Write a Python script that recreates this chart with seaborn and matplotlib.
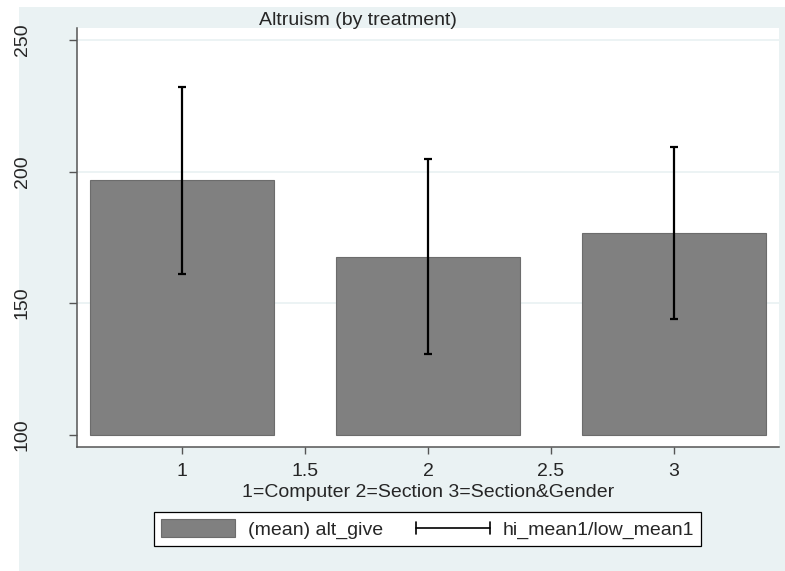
import matplotlib
matplotlib.use("Agg")
import matplotlib.pyplot as plt
from matplotlib.patches import Patch, Rectangle
from matplotlib.lines import Line2D
from matplotlib.legend_handler import HandlerBase
import numpy as np
import pandas as pd
import seaborn as sns

# Mean giving by treatment with hi/low bounds
treatment = [1, 2, 3]
mean_give = [196.7, 167.7, 176.6]
hi_mean1 = [232.3, 204.7, 209.5]
low_mean1 = [161.1, 130.7, 143.8]
bar_base = 100

xtick_vals = [1, 1.5, 2, 2.5, 3]
xtick_labels = ["1", "1.5", "2", "2.5", "3"]
ytick_vals = [100, 150, 200, 250]

title_text = "Altruism (by treatment)"
xlabel_text = "1=Computer 2=Section 3=Section&Gender"
bar_label = "(mean) alt_give"
range_label = "hi_mean1/low_mean1"

BG = "#EAF2F3"
BAR = "#808080"
AXC = "#555555"

sns.set_theme(style="white")
plt.rcParams["font.family"] = ["Liberation Sans", "DejaVu Sans"]
plt.rcParams["font.size"] = 14

W, H = 785, 571
fig = plt.figure(figsize=(W / 100, H / 100), dpi=100)
fig.patch.set_facecolor("white")
fig.patches.append(Rectangle((19 / W, 0), (W - 19) / W, (H - 7) / H,
                             transform=fig.transFigure, facecolor=BG,
                             edgecolor="none", zorder=-10))

ax = fig.add_axes([77 / W, 1 - 447 / H, (779 - 77) / W, (447 - 28) / H])
ax.set_facecolor("white")

df = pd.DataFrame({
    "treatment": treatment,
    "mean_give": mean_give,
    "hi": hi_mean1,
    "low": low_mean1,
})
df["height"] = df["mean_give"] - bar_base

sns.barplot(data=df, x="treatment", y="height", native_scale=True,
            width=0.75, bottom=bar_base, color=BAR, saturation=1,
            errorbar=None, edgecolor="#6c6c6c", linewidth=0.8, ax=ax,
            zorder=2)

m = df["mean_give"].to_numpy()
ax.errorbar(df["treatment"], m,
            yerr=[m - df["low"].to_numpy(), df["hi"].to_numpy() - m],
            fmt="none", ecolor="black", elinewidth=1.6, capsize=3.2,
            capthick=1.6, zorder=3)

ax.set_xlim(0.573, 3.427)
ax.set_ylim(95.3, 254.6)
ax.set_xticks(xtick_vals)
ax.set_xticklabels(xtick_labels)
ax.set_yticks(ytick_vals)
ax.set_yticklabels([str(v) for v in ytick_vals])
for y in ytick_vals[1:]:
    ax.axhline(y, color=BG, lw=1.3, zorder=1)

for s in ["top", "right"]:
    ax.spines[s].set_visible(False)
for s in ["left", "bottom"]:
    ax.spines[s].set_color(AXC)
    ax.spines[s].set_linewidth(1.1)

ax.tick_params(axis="x", direction="out", length=5, width=1, color=AXC,
               pad=6.5, labelsize=14, bottom=True)
ax.tick_params(axis="y", direction="out", length=5.8, width=1, color=AXC,
               pad=27.4, labelsize=14, left=True, labelrotation=90)
for lab in ax.get_yticklabels():
    lab.set_va("center")
ax.set_xlabel("")
ax.set_ylabel("")

fig.text(358 / W, 1 - 25 / H, title_text, ha="center", va="baseline",
         fontsize=14)
fig.text(428 / W, 1 - 497 / H, xlabel_text, ha="center", va="baseline",
         fontsize=14)


class RangeCapHandler(HandlerBase):
    def create_artists(self, legend, orig_handle, xdescent, ydescent,
                       width, height, fontsize, trans):
        yc = height / 2 - ydescent
        x0, x1 = -xdescent, -xdescent + width
        cap = height * 0.35
        arts = [
            Line2D([x0, x1], [yc, yc], color="black", lw=1.2),
            Line2D([x0, x0], [yc - cap, yc + cap], color="black", lw=1.2),
            Line2D([x1, x1], [yc - cap, yc + cap], color="black", lw=1.2),
        ]
        for a in arts:
            a.set_transform(trans)
        return arts


bar_handle = Patch(facecolor=BAR, edgecolor="#6c6c6c", linewidth=0.8)
range_handle = Line2D([], [], color="black")
leg = fig.legend([bar_handle, range_handle], [bar_label, range_label],
                 handler_map={Line2D: RangeCapHandler()},
                 loc="center", bbox_to_anchor=(427.5 / W, 1 - 529 / H),
                 ncol=2, fontsize=14, frameon=True, fancybox=False,
                 edgecolor="black", facecolor="white", framealpha=1,
                 handlelength=3.8, handleheight=1.03, handletextpad=0.67,
                 columnspacing=1.7, borderpad=0.36)
leg.get_frame().set_linewidth(0.9)

fig.savefig("out.png", dpi=100, facecolor="white")
